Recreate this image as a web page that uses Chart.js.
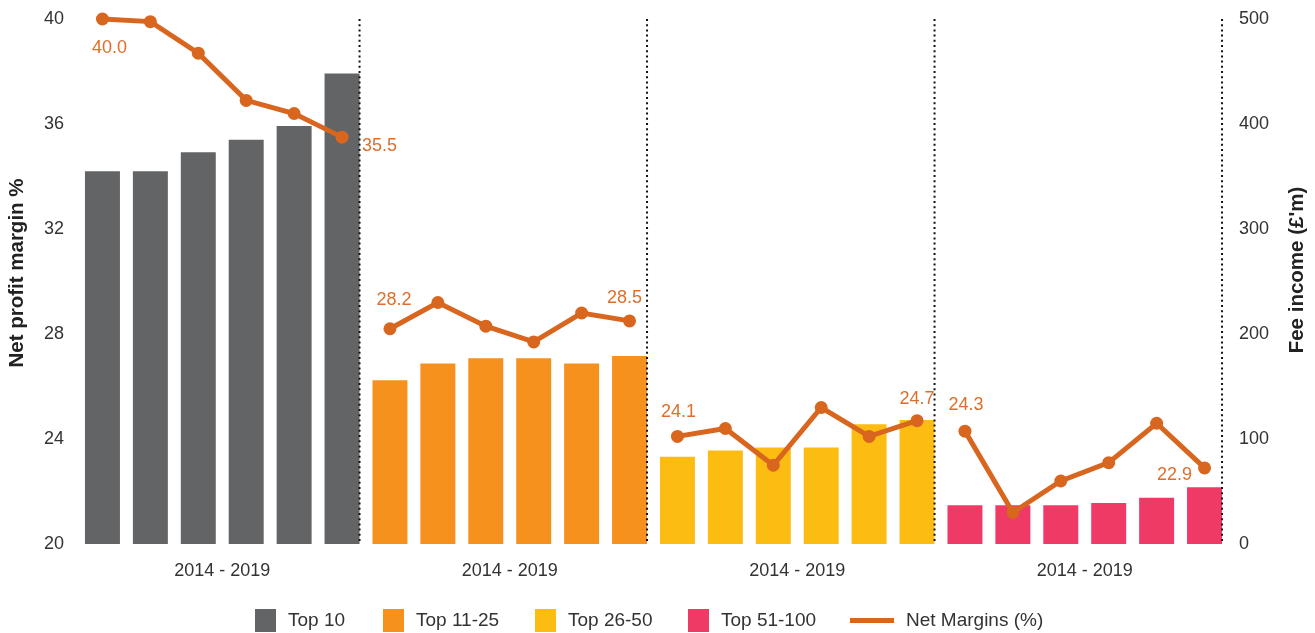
<!DOCTYPE html>
<html>
<head>
<meta charset="utf-8">
<script src="https://cdn.jsdelivr.net/npm/chart.js@4.4.1/dist/chart.umd.min.js"></script>
<style>
  html, body { margin: 0; padding: 0; background: #ffffff; }
  #wrap { position: relative; width: 1315px; height: 633px; overflow: hidden; }
  #chart { position: absolute; left: 0; top: 0; }
  #legend { position: absolute; left: 0; top: 607px; width: 1315px; height: 26px;
            font-family: "Liberation Sans", Arial, Helvetica, sans-serif; font-size: 19px; color: #333333; white-space: nowrap; }
  .it { position: absolute; top: 0; height: 26px; display: flex; align-items: center; }
  .bx { display: inline-block; width: 21px; height: 23px; margin-right: 12px; }
  .ln { display: inline-block; width: 44px; height: 5px; margin-right: 12px; }
</style>
</head>
<body>
<div id="wrap">
  <canvas id="chart" width="1315" height="633"></canvas>
  <div id="legend"></div>
</div>
<script>
// ---------------- data ----------------
const groupLabels = ['2014 - 2019', '2014 - 2019', '2014 - 2019', '2014 - 2019'];
const years = ['2014', '2015', '2016', '2017', '2018', '2019'];
const seriesNames = ['Top 10', 'Top 11-25', 'Top 26-50', 'Top 51-100'];
const lineName = 'Net Margins (%)';

// Fee income (£'m), right axis
const feeTop10 = [355, 355, 373, 385, 398, 448];
const feeTop11to25 = [156, 172, 177, 177, 172, 179];
const feeTop26to50 = [83, 89, 92, 92, 114, 118];
const feeTop51to100 = [37, 37, 37, 39, 44, 54];

// Net profit margin %, left axis
const marginTop10 = [40.0, 39.9, 38.7, 36.9, 36.4, 35.5];
const marginTop11to25 = [28.2, 29.2, 28.3, 27.7, 28.8, 28.5];
const marginTop26to50 = [24.1, 24.4, 23.0, 25.2, 24.1, 24.7];
const marginTop51to100 = [24.3, 21.2, 22.4, 23.1, 24.6, 22.9];

const leftTicks = [20, 24, 28, 32, 36, 40];
const rightTicks = [0, 100, 200, 300, 400, 500];
const leftTitle = 'Net profit margin %';
const rightTitle = "Fee income (£'m)";

// ---------------- styling ----------------
const barColors = ['#636466', '#F6911E', '#FCBC12', '#EE3A64'];
const lineColor = '#D8661F';
const labelColor = '#DE6E2A';
const FONT = '"Liberation Sans", Arial, Helvetica, sans-serif';
const legendLeft = [255, 383, 535, 688, 850];

// ---------------- build ----------------
const feeGroups = [feeTop10, feeTop11to25, feeTop26to50, feeTop51to100];
const marginGroups = [marginTop10, marginTop11to25, marginTop26to50, marginTop51to100];
const perGroup = years.length;
const categories = [];
groupLabels.forEach(() => years.forEach(y => categories.push(y)));
const total = categories.length;

const datasets = feeGroups.map((vals, g) => {
  const d = new Array(total).fill(null);
  vals.forEach((v, i) => { d[g * perGroup + i] = v; });
  return {
    type: 'bar', label: seriesNames[g], data: d, backgroundColor: barColors[g],
    xAxisID: 'x', yAxisID: 'y1', grouped: false, barPercentage: 0.73, categoryPercentage: 1.0, order: 2
  };
});
const marginData = [].concat(...marginGroups);
datasets.push({
  type: 'line', label: lineName, data: marginData, xAxisID: 'x', yAxisID: 'y',
  borderColor: lineColor, backgroundColor: lineColor, borderWidth: 5, clip: false,
  pointRadius: 6.5, pointHoverRadius: 6.5, pointBackgroundColor: lineColor, pointBorderWidth: 0,
  tension: 0, order: 0,
  segment: { borderColor: ctx => (ctx.p1DataIndex % perGroup === 0) ? 'rgba(0,0,0,0)' : lineColor }
});

// label placement (first and last point of each group)
const labelPlacement = {
  0:  { dx: 7,   dy: 29,  align: 'center' },
  5:  { dx: 20,  dy: 9,   align: 'left' },
  6:  { dx: 4,   dy: -29, align: 'center' },
  11: { dx: -5,  dy: -23, align: 'center' },
  12: { dx: 1,   dy: -24, align: 'center' },
  17: { dx: 0,   dy: -22, align: 'center' },
  18: { dx: 1,   dy: -26, align: 'center' },
  23: { dx: -30, dy: 7,   align: 'center' }
};

const overlay = {
  id: 'overlay',
  afterDatasetsDraw(chart) {
    const { ctx, chartArea } = chart;
    ctx.save();
    // dotted separators at the right edge of each group's last bar
    ctx.strokeStyle = '#111111';
    ctx.lineWidth = 2;
    ctx.setLineDash([2, 3.2]);
    for (let g = 0; g < feeGroups.length; g++) {
      const bar = chart.getDatasetMeta(g).data[g * perGroup + perGroup - 1];
      const x = bar.x + bar.width / 2;
      ctx.beginPath();
      ctx.moveTo(x, chartArea.top);
      ctx.lineTo(x, chartArea.bottom);
      ctx.stroke();
    }
    ctx.setLineDash([]);
    // data labels
    const meta = chart.getDatasetMeta(feeGroups.length);
    ctx.font = '18px ' + FONT;
    ctx.fillStyle = labelColor;
    ctx.textBaseline = 'middle';
    Object.keys(labelPlacement).forEach(k => {
      const i = +k; const p = labelPlacement[k];
      const pt = meta.data[i];
      ctx.textAlign = p.align;
      ctx.fillText(marginData[i].toFixed(1), pt.x + p.dx, pt.y + p.dy);
    });
    // axis titles (read bottom to top)
    ctx.font = 'bold 20.5px ' + FONT;
    ctx.fillStyle = '#222222';
    ctx.textAlign = 'center';
    ctx.textBaseline = 'middle';
    [[17, 273, leftTitle], [1297, 270, rightTitle]].forEach(([x, y, t]) => {
      ctx.save();
      ctx.translate(x, y);
      ctx.rotate(-Math.PI / 2);
      ctx.fillText(t, 0, 0);
      ctx.restore();
    });
    ctx.restore();
  }
};

Chart.defaults.font.family = FONT;
Chart.defaults.font.size = 18;
Chart.defaults.color = '#333333';

const fitY = w => s => { s.width = w; s.paddingTop = 0; s.paddingBottom = 0; };

new Chart(document.getElementById('chart'), {
  type: 'bar',
  data: { labels: categories, datasets },
  options: {
    responsive: false,
    animation: false,
    events: [],
    layout: { padding: { top: 19, left: 0, right: 0, bottom: 49 } },
    plugins: { legend: { display: false }, tooltip: { enabled: false } },
    scales: {
      x: { type: 'category', display: false, offset: true, grid: { display: false } },
      xg: {
        type: 'category', labels: groupLabels, position: 'bottom', offset: true,
        grid: { display: false, drawTicks: false }, border: { display: false },
        ticks: { padding: 16, color: '#333333', font: { size: 18 }, maxRotation: 0, autoSkip: false },
        afterFit: s => { s.height = 40; s.paddingLeft = 0; s.paddingRight = 0; }
      },
      y: {
        type: 'linear', position: 'left', min: 20, max: 40,
        grid: { display: false, drawTicks: false }, border: { display: false },
        ticks: { padding: 14.5, color: '#333333', font: { size: 18 } },
        afterBuildTicks: s => { s.ticks = leftTicks.map(v => ({ value: v })); },
        afterFit: fitY(78.5)
      },
      y1: {
        type: 'linear', position: 'right', min: 0, max: 500,
        grid: { display: false, drawTicks: false }, border: { display: false },
        ticks: { padding: 10.5, color: '#333333', font: { size: 18 } },
        afterBuildTicks: s => { s.ticks = rightTicks.map(v => ({ value: v })); },
        afterFit: fitY(86.5)
      }
    }
  },
  plugins: [overlay]
});

// HTML legend
const legend = document.getElementById('legend');
const legendEntries = seriesNames.map((n, g) => ({ name: n, color: barColors[g], cls: 'bx' }))
  .concat([{ name: lineName, color: lineColor, cls: 'ln' }]);
legendEntries.forEach((e, i) => {
  const it = document.createElement('div'); it.className = 'it'; it.style.left = legendLeft[i] + 'px';
  const b = document.createElement('span'); b.className = e.cls; b.style.background = e.color;
  const t = document.createElement('span'); t.textContent = e.name;
  it.appendChild(b); it.appendChild(t); legend.appendChild(it);
});
</script>
</body>
</html>
